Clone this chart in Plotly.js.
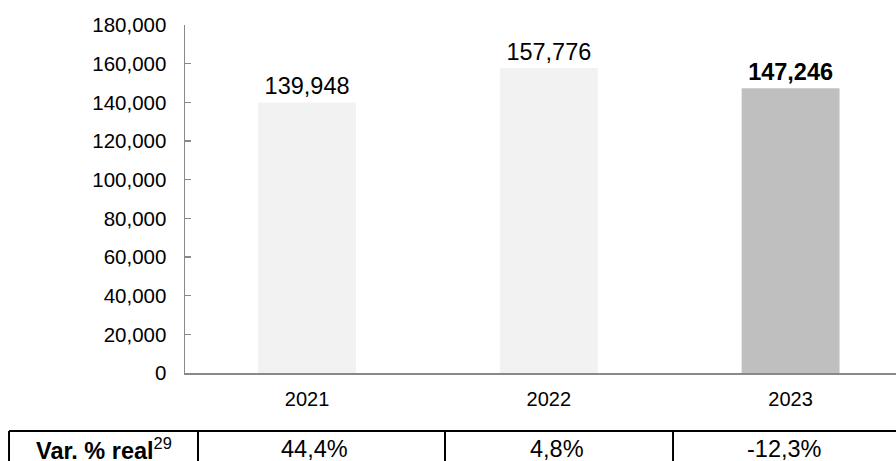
<!DOCTYPE html>
<html>
<head>
<meta charset="utf-8">
<script src="https://cdn.plot.ly/plotly-3.0.1.min.js"></script>
<style>html,body{margin:0;padding:0;background:#fff;}#chart{width:896px;height:461px;}</style>
</head>
<body>
<div id="chart"></div>
<script>
var years = ['2021', '2022', '2023'];
var values = [139948, 157776, 147246];
var valueLabels = ['139,948', '157,776', '<b>147,246</b>'];
var barColors = ['#f2f2f2', '#f2f2f2', '#bfbfbf'];
var rowLabel = '<b>Var. % real</b><sup>29</sup>';
var varReal = ['44,4%', '4,8%', '-12,3%'];
var yTicks = [0, 20000, 40000, 60000, 80000, 100000, 120000, 140000, 160000, 180000];

var font = 'Liberation Sans, Arial, sans-serif';

var trace = {
  type: 'bar',
  x: years,
  y: values,
  width: 0.405,
  marker: {color: barColors, line: {width: 0}},
  text: valueLabels,
  textposition: 'outside',
  textfont: {family: font, size: 23.5, color: '#000'},
  cliponaxis: false,
  hoverinfo: 'skip'
};

// table geometry (paper coords)
var yTop = -0.1667, yBot = -0.30, yText = -0.219;
var xs = [-0.2475, 0.0183, 0.3657, 0.6864, 1.0];
var shapes = [];
shapes.push({type: 'line', xref: 'paper', yref: 'paper', x0: xs[0], x1: 1.02, y0: yTop, y1: yTop, line: {color: '#000', width: 2}});
for (var i = 0; i < 4; i++) {
  shapes.push({type: 'line', xref: 'paper', yref: 'paper', x0: xs[i], x1: xs[i], y0: yTop, y1: yBot, line: {color: '#000', width: 2}});
}
var annotations = [];
annotations.push({xref: 'paper', yref: 'paper', x: (xs[0] + xs[1]) / 2, y: yText, text: rowLabel, showarrow: false,
  xanchor: 'center', yanchor: 'middle', font: {family: font, size: 23.5, color: '#000'}});
var centers = [(xs[1] + xs[2]) / 2 - 0.01, (xs[2] + xs[3]) / 2 - 0.003, (xs[3] + 1.0) / 2];
for (var j = 0; j < varReal.length; j++) {
  annotations.push({xref: 'paper', yref: 'paper', x: centers[j], y: yText, text: varReal[j], showarrow: false,
    xanchor: 'center', yanchor: 'middle', font: {family: font, size: 23.5, color: '#000'}});
}

var layout = {
  width: 896, height: 461,
  margin: {l: 185, r: 0, t: 25, b: 88, pad: 0},
  paper_bgcolor: '#fff', plot_bgcolor: '#fff',
  showlegend: false,
  font: {family: font, color: '#000'},
  xaxis: {
    type: 'category', range: [-0.505, 2.436],
    showline: true, linecolor: '#898989', linewidth: 1.5,
    ticks: '', showgrid: false, zeroline: false,
    tickfont: {family: font, size: 20, color: '#000'}, ticklabelstandoff: 7
  },
  yaxis: {
    range: [0, 180000], tickvals: yTicks, tickformat: ',d',
    showline: true, linecolor: '#898989', linewidth: 1.5,
    ticks: 'inside', ticklen: 6, tickcolor: '#898989', tickwidth: 1.5,
    showgrid: false, zeroline: false,
    tickfont: {family: font, size: 20.5, color: '#000'}, ticklabelstandoff: 13
  },
  shapes: shapes,
  annotations: annotations
};

Plotly.newPlot('chart', [trace], layout, {displayModeBar: false, staticPlot: true});
</script>
</body>
</html>
